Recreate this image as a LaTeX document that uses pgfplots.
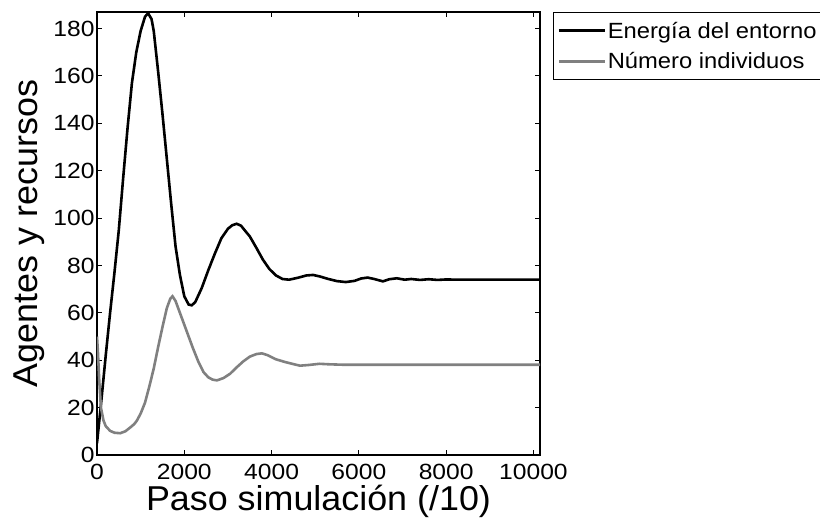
\documentclass[border=0pt]{standalone}
\usepackage{fontspec}
\setmainfont{Liberation Sans}
\newfontfamily\tickfont[FakeStretch=1.12]{Liberation Sans}
\newfontfamily\legfont[FakeStretch=1.08]{Liberation Sans}
\newfontfamily\labfont[FakeStretch=1.04]{Liberation Sans}
\usepackage{pgfplots}
\pgfplotsset{compat=1.18}
\definecolor{grayline}{RGB}{128,128,128}

\pgfplotstableread{
x y
0 5
50 14
100 23
200 42
300 60
400 77
500 95
600 117
700 138
800 157
900 170
1000 179
1100 185
1170 186.5
1250 184
1300 179
1400 162
1500 144
1600 125
1700 106
1800 88
1900 76
2000 67
2100 63.5
2170 63.2
2250 64.5
2400 70.5
2550 78
2700 85
2850 91.5
3000 95.5
3100 97
3200 97.6
3300 96.8
3400 94.5
3500 92.3
3650 87.5
3800 82.5
3950 78.5
4100 75.8
4250 74.3
4400 74
4600 74.8
4800 75.8
4950 76
5100 75.4
5300 74.3
5500 73.4
5700 73
5900 73.5
6050 74.5
6200 74.9
6350 74.3
6550 73.3
6700 74.2
6870 74.6
7050 74
7200 74.3
7400 73.9
7600 74.2
7800 73.9
8000 74.1
8300 74
10150 74
}\energia

\pgfplotstableread{
x y
0 50
20 44
50 32
90 20
150 14.5
200 12.2
300 10.2
400 9.4
530 9.2
650 10
760 11.6
850 13
910 14.4
1000 17.5
1100 22.1
1200 29
1300 36.5
1400 45.5
1500 54
1600 62
1680 66
1730 67
1800 65
1900 60
2000 55
2100 50
2200 45
2320 39.5
2440 35
2550 32.8
2650 31.8
2750 31.5
2900 32.5
3050 34.3
3200 37
3350 39.5
3500 41.5
3650 42.6
3780 42.9
3900 42.2
4100 40.4
4300 39.3
4450 38.6
4650 37.7
4850 38
5100 38.5
5300 38.3
5640 38.1
10150 38.1
}\individuos

\begin{document}
\begin{tikzpicture}
\path[use as bounding box] (-97pt,-65pt) rectangle (723pt,455pt);
\begin{axis}[
  at={(0pt,0pt)}, anchor=south west,
  scale only axis, width=443pt, height=443pt,
  xmin=0, xmax=10150, ymin=0, ymax=187,
  xtick={0,2000,...,10000}, ytick={0,20,...,180},
  tick align=inside, major tick length=5pt,
  axis line style={line width=1.4pt},
  tick style={line width=1pt, black},
  scaled x ticks=false,
  xticklabel style={/pgf/number format/1000 sep={}, yshift=-6pt},
  yticklabel style={xshift=1pt},
  /pgf/number format/assume math mode=true,
  ticklabel style={font=\tickfont\fontsize{22}{26}\selectfont},
  xlabel={Paso simulación (/10)},
  ylabel={Agentes y recursos},
  label style={font=\labfont\fontsize{34.5}{40}\selectfont},
  xlabel style={yshift=2pt},
  ylabel style={yshift=2pt},
  legend style={at={(1,1)}, anchor=north west, xshift=13pt,
    draw=black, line width=1pt, font=\legfont\fontsize{22}{26}\selectfont,
    inner xsep=4pt, inner ysep=8pt, row sep=10pt,
    nodes={inner sep=1.5pt}},
  legend cell align=left,
  legend image code/.code={\draw[#1] (0pt,0pt) -- (46pt,0pt);},
  legend image post style={line width=2.8pt},
]
\addplot[black, line width=2.6pt] table[x=x, y=y] {\energia};
\addlegendentry{Energía del entorno}
\addplot[grayline, line width=2.6pt] table[x=x, y=y] {\individuos};
\addlegendentry{Número individuos}
\end{axis}
\end{tikzpicture}
\end{document}
